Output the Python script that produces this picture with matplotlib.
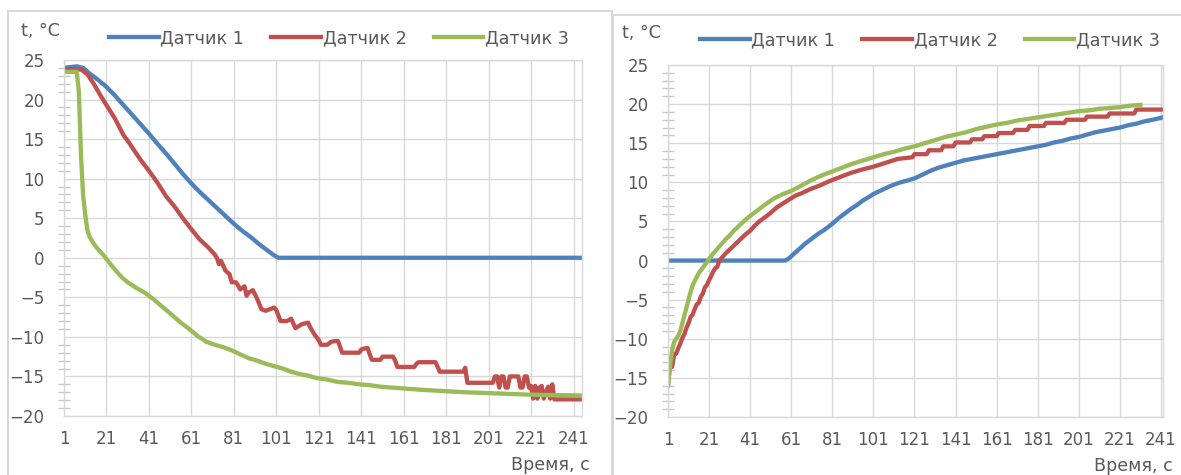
import matplotlib
matplotlib.use("Agg")
import matplotlib.pyplot as plt
from matplotlib.ticker import MultipleLocator
from matplotlib.patches import Rectangle

plt.rcParams['font.family'] = ['DejaVu Sans']

# colours (Excel 2010 palette)
BLUE = '#4F81BD'
RED = '#C0504D'
GREEN = '#9BBB59'
GRID = '#d9d9d9'
TXT = '#595959'

SERIES_NAMES = ['Датчик 1', 'Датчик 2', 'Датчик 3']
X_TICKS = list(range(1, 242, 20))
Y_TICKS = list(range(-20, 26, 5))

# ---- left chart (cooling), 245 samples ----
left_n = 245
left_s1_t = [1, 4, 7, 10, 13, 17, 21, 25, 29, 33, 37, 41, 45, 49, 53, 57, 61, 65, 69, 73,
             77, 81, 85, 89, 93, 97, 100, 102, 245]
left_s1_v = [24.0, 24.1, 24.2, 24.0, 23.3, 22.5, 21.6, 20.5, 19.3, 18.1, 16.9, 15.7, 14.4, 13.2,
             11.9, 10.6, 9.4, 8.3, 7.3, 6.3, 5.3, 4.3, 3.4, 2.6, 1.7, 0.9, 0.3, 0.0, 0.0]

left_s2_t = [1, 9, 12, 15, 18, 21, 25, 29, 31, 34, 37, 41, 45, 49, 53, 57, 61, 65, 69, 72,
             73, 74, 75, 77, 79, 80, 82, 83, 84, 86, 87, 88, 90, 92, 94, 96, 98, 100, 101,
             103, 106, 108, 110, 113, 116, 117, 119, 121, 122, 125, 127, 130, 131, 132, 140,
             141, 142, 144, 145, 146, 150, 151, 156, 157, 158, 166, 167, 168, 176, 177, 178,
             189, 190, 191, 203, 204, 205, 206, 207, 208, 209, 210, 211, 212, 215, 216, 217,
             218, 219, 220, 221, 222, 223, 224, 225, 226, 227, 228, 229, 230, 231, 232, 245]
left_s2_v = [23.8, 23.8, 23.2, 22.0, 20.6, 19.3, 17.6, 15.5, 14.8, 13.6, 12.4, 11.0, 9.5, 7.8,
             6.5, 5.0, 3.6, 2.3, 1.3, 0.4, 0.0, -0.8, -0.4, -1.6, -2.1, -3.1, -3.1, -3.5, -4.0,
             -3.6, -4.8, -4.4, -4.1, -5.2, -6.5, -6.7, -6.5, -6.3, -6.6, -8.0, -8.0, -7.7, -8.9,
             -8.4, -8.2, -8.8, -9.7, -10.4, -11.0, -11.0, -10.6, -10.5, -11.2, -12.0, -12.0,
             -11.6, -11.5, -11.4, -12.2, -12.9, -12.9, -12.5, -12.5, -13.0, -13.8, -13.8, -13.4,
             -13.2, -13.2, -13.8, -14.4, -14.4, -13.9, -15.8, -15.8, -15.0, -15.0, -16.4, -15.0,
             -15.0, -16.4, -16.4, -15.0, -15.0, -15.0, -16.4, -16.4, -15.0, -15.0, -16.4, -16.2,
             -17.8, -16.2, -17.8, -16.4, -16.2, -17.8, -17.0, -16.3, -17.8, -16.0, -17.9, -17.9]

left_s3_t = [1, 7, 8, 9, 10, 11, 12, 13, 14, 16, 18, 20, 22, 25, 28, 31, 35, 39, 43, 46, 50,
             53, 56, 60, 64, 68, 72, 76, 80, 84, 88, 92, 96, 100, 104, 108, 112, 116, 120, 125,
             130, 135, 140, 145, 150, 155, 160, 170, 180, 190, 200, 210, 220, 230, 245]
left_s3_v = [23.5, 23.5, 21.0, 12.9, 7.9, 5.5, 3.5, 2.7, 2.2, 1.4, 0.8, 0.2, -0.5, -1.5, -2.4,
             -3.1, -3.8, -4.4, -5.2, -5.9, -6.8, -7.5, -8.2, -9.0, -9.9, -10.6, -11.0, -11.3,
             -11.7, -12.2, -12.7, -13.0, -13.4, -13.7, -14.0, -14.4, -14.7, -14.9, -15.2, -15.4,
             -15.7, -15.8, -16.0, -16.1, -16.3, -16.4, -16.5, -16.7, -16.85, -17.0, -17.1,
             -17.2, -17.3, -17.35, -17.4]

# ---- right chart (warming), 242 samples ----
right_n = 242
right_s1_t = [1, 58, 60, 62, 65, 68, 71, 74, 77, 79, 81, 84, 87, 90, 93, 96, 98, 101, 105, 109,
              113, 117, 121, 125, 129, 133, 137, 141, 145, 149, 153, 157, 161, 165, 169, 173,
              177, 181, 185, 189, 193, 197, 201, 205, 209, 213, 217, 221, 225, 229, 233, 237, 242]
right_s1_v = [0.0, 0.0, 0.3, 0.8, 1.5, 2.2, 2.8, 3.4, 3.9, 4.3, 4.7, 5.4, 6.0, 6.6, 7.1, 7.7,
              8.0, 8.5, 9.0, 9.5, 9.9, 10.2, 10.5, 11.0, 11.5, 11.9, 12.2, 12.5, 12.8, 13.0,
              13.2, 13.4, 13.6, 13.8, 14.0, 14.2, 14.4, 14.6, 14.8, 15.1, 15.3, 15.6, 15.8,
              16.1, 16.4, 16.6, 16.8, 17.0, 17.3, 17.5, 17.8, 18.0, 18.3]

right_s2_t = [1, 2, 3, 4, 5, 6, 7, 8, 9, 10, 11, 12, 13, 14, 15, 16, 17, 18, 19, 20, 21, 22,
              23, 24, 25, 26, 27, 29, 31, 33, 35, 37, 39, 41, 43, 45, 48, 51, 54, 57, 60, 63,
              66, 70, 75, 80, 85, 90, 95, 101, 107, 113, 120, 121, 127, 128, 134, 135, 140,
              141, 148, 149, 154, 155, 161, 162, 169, 170, 176, 177, 184, 185, 194, 195, 204,
              205, 215, 216, 228, 229, 242]
right_s2_v = [-16.0, -13.2, -13.6, -12.0, -11.9, -11.2, -10.6, -9.9, -9.4, -8.6, -8.0, -7.2,
              -6.9, -6.2, -5.6, -5.4, -4.6, -4.2, -3.4, -3.1, -2.5, -2.0, -1.4, -1.0, -0.8,
              0.0, 0.3, 0.9, 1.4, 1.9, 2.4, 2.9, 3.4, 3.8, 4.4, 4.9, 5.5, 6.1, 6.8, 7.3, 7.8,
              8.3, 8.6, 9.1, 9.6, 10.2, 10.7, 11.2, 11.6, 12.0, 12.5, 13.0, 13.2, 13.6, 13.6,
              14.1, 14.1, 14.6, 14.6, 15.1, 15.1, 15.5, 15.5, 15.9, 15.9, 16.3, 16.3, 16.7,
              16.7, 17.2, 17.2, 17.6, 17.6, 18.0, 18.0, 18.4, 18.4, 18.8, 18.8, 19.3, 19.3]

right_s3_t = [1, 2, 3, 4, 5, 6, 7, 8, 9, 10, 11, 12, 13, 14, 15, 16, 18, 20, 21, 23, 25, 27,
              29, 31, 33, 35, 37, 39, 41, 45, 49, 53, 57, 61, 66, 71, 76, 81, 86, 91, 96, 101,
              106, 111, 116, 121, 126, 131, 136, 141, 146, 151, 156, 161, 166, 171, 176, 181,
              186, 191, 196, 201, 206, 211, 216, 221, 226, 231]
right_s3_v = [-16.0, -13.5, -11.5, -10.4, -10.0, -9.6, -9.0, -8.0, -7.0, -6.0, -5.0, -4.0,
              -3.2, -2.6, -2.1, -1.6, -0.9, -0.2, 0.2, 0.9, 1.5, 2.1, 2.7, 3.2, 3.8, 4.3, 4.8,
              5.3, 5.7, 6.5, 7.3, 8.0, 8.5, 8.9, 9.6, 10.3, 10.9, 11.4, 11.9, 12.4, 12.8, 13.2,
              13.6, 13.9, 14.3, 14.6, 15.0, 15.4, 15.8, 16.1, 16.4, 16.8, 17.1, 17.4, 17.6,
              17.9, 18.1, 18.3, 18.5, 18.7, 18.9, 19.1, 19.2, 19.4, 19.5, 19.6, 19.8, 19.9]

W, H = 1181, 475
FS = 12          # tick labels
FS_LEG = 12.6    # legend and axis titles
fig = plt.figure(figsize=(W / 100, H / 100), dpi=100)

# chart frames (two Excel chart objects side by side)
fig.patches.append(Rectangle((8 / W, -0.05), 604 / W, 1.05 - 11 / H, transform=fig.transFigure,
                             fill=False, edgecolor=GRID, lw=1.5))
fig.patches.append(Rectangle((613 / W, -0.05), 600 / W, 1.05 - 15 / H, transform=fig.transFigure,
                             fill=False, edgecolor=GRID, lw=1.5))


def make_axes(rect, n, data, title_xy, xlabel_xy, legend_xy):
    ax = fig.add_axes(rect)
    for (t, v), col, name in zip(data, [BLUE, RED, GREEN], SERIES_NAMES):
        ax.plot(t, v, color=col, lw=3.1, label=name, solid_joinstyle='round')
    ax.set_xlim(1, n)
    ax.set_ylim(-20, 25)
    ax.set_xticks(X_TICKS)
    ax.set_yticks(Y_TICKS)
    ax.yaxis.set_minor_locator(MultipleLocator(1))
    ax.grid(True, which='major', color=GRID, lw=1.0)
    ax.set_axisbelow(True)
    for s in ax.spines.values():
        s.set_color(GRID)
        s.set_linewidth(1.0)
    ax.tick_params(axis='x', length=0, pad=10, labelsize=FS, labelcolor=TXT)
    ax.tick_params(axis='y', which='major', length=0, pad=14, labelsize=FS, labelcolor=TXT)
    ax.tick_params(axis='y', which='minor', direction='inout', length=8, color='#c8c8c8', width=1)
    fig.text(title_xy[0] / W, 1 - title_xy[1] / H, 't, °C', fontsize=FS_LEG, color=TXT,
             ha='left', va='center')
    fig.text(xlabel_xy[0] / W, 1 - xlabel_xy[1] / H, 'Время, с', fontsize=FS_LEG, color=TXT,
             ha='left', va='center')
    ax.legend(loc='center left', bbox_to_anchor=(legend_xy[0] / W, 1 - legend_xy[1] / H),
              bbox_transform=fig.transFigure, ncol=3, frameon=False, fontsize=FS_LEG,
              handlelength=2.85, handletextpad=0.08, columnspacing=1.55, borderpad=0,
              borderaxespad=0, labelcolor=TXT)
    return ax


make_axes([64 / W, 1 - 416 / H, (582 - 64) / W, (416 - 60) / H], left_n,
          [(left_s1_t, left_s1_v), (left_s2_t, left_s2_v), (left_s3_t, left_s3_v)],
          (21, 31), (511, 465), (109, 38))
make_axes([668 / W, 1 - 417 / H, (1163 - 668) / W, (417 - 65) / H], right_n,
          [(right_s1_t, right_s1_v), (right_s2_t, right_s2_v), (right_s3_t, right_s3_v)],
          (622, 33), (1094, 466), (700, 40))

fig.savefig('out.png', dpi=100)
